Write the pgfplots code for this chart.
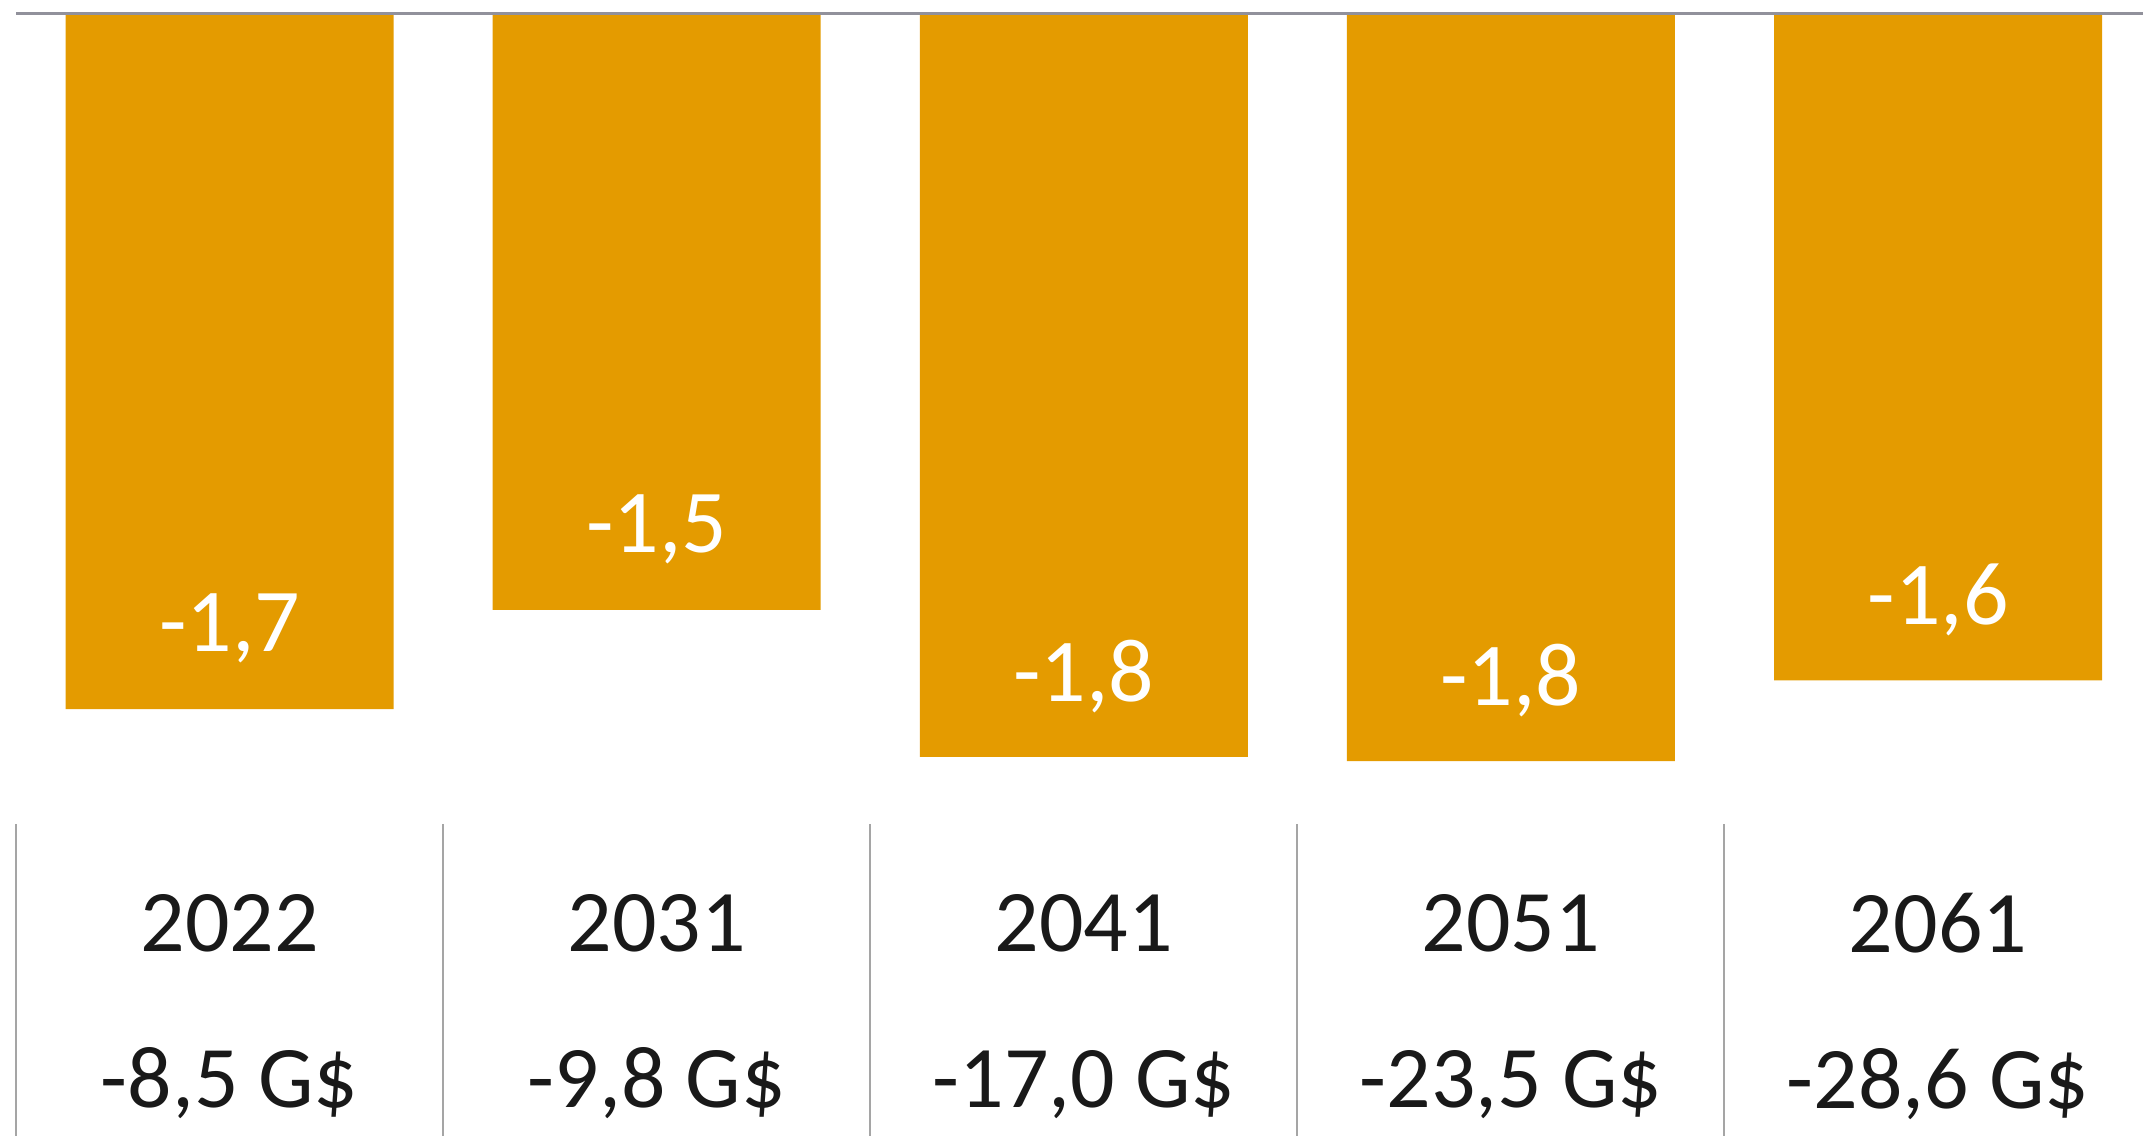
\documentclass[border=0pt]{standalone}
\usepackage{pgfplots}
\pgfplotsset{compat=1.18}
\usepackage{fontspec}
\setmainfont{Carlito}
\definecolor{barorange}{RGB}{228,155,0}
\definecolor{rulegray}{RGB}{145,145,155}
\definecolor{sepgray}{RGB}{165,165,165}
\definecolor{txt}{RGB}{25,25,25}
\begin{document}
\begin{tikzpicture}
\begin{axis}[
  width=548.8pt, height=290.85pt, scale only axis,
  xmin=-0.5376, xmax=4.48, ymin=-2.71, ymax=0.033,
  ybar, bar width=84pt,
  axis line style={draw=none},
  major tick style={draw=none},
  ytick=\empty,
  xtick={0,1,2,3,4},
  xticklabels={{2022\\-8,5 G\$},{2031\\-9,8 G\$},{2041\\-17,0 G\$},{2051\\-23,5 G\$},{2061\\-28,6 G\$}},
  xticklabel style={align=center, anchor=center, yshift=37.3pt,
    font=\fontsize{22.5}{40}\selectfont, text=txt},
  nodes near coords, point meta=explicit symbolic,
  every node near coord/.style={anchor=center, yshift=20.6pt, text=white,
    font=\fontsize{23}{27}\selectfont},
  clip=false,
]
\addplot[fill=barorange, draw=none] coordinates {
  (0,-1.68) [{-1,7}]
  (1,-1.44) [{-1,5}]
  (2,-1.795) [{-1,8}]
  (3,-1.805) [{-1,8}]
  (4,-1.61) [{-1,6}]
};
\draw[rulegray, line width=0.7pt] (axis cs:-0.5,0) -- (axis cs:4.48,0);
\pgfplotsinvokeforeach{-0.5,0.5,1.5,2.5,3.5}{
  \draw[sepgray, line width=0.5pt] (axis cs:#1,-1.957) -- (axis cs:#1,-2.71);
}
\end{axis}
\pgfresetboundingbox
\path (current axis.south west) rectangle (current axis.north east);
\end{tikzpicture}
\end{document}
